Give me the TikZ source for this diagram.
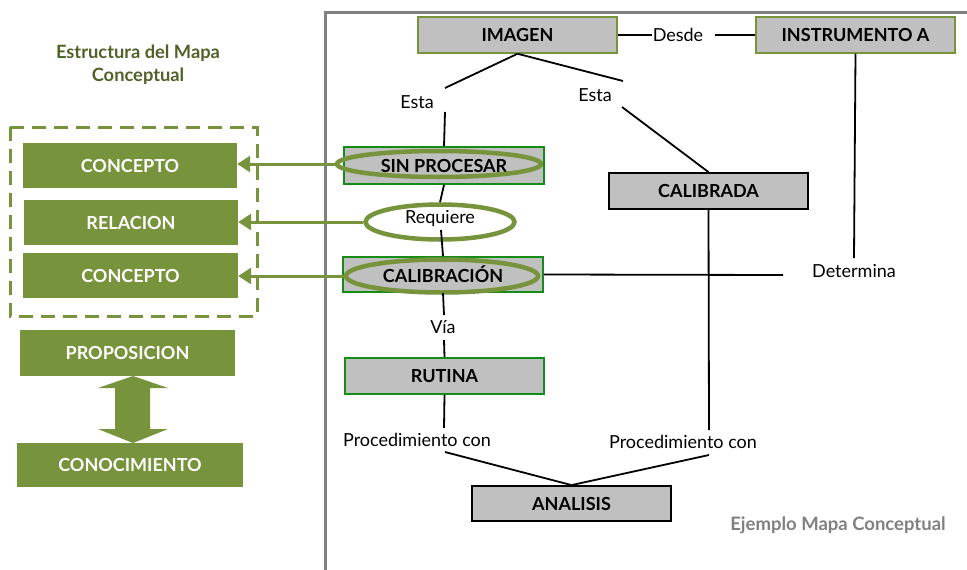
\documentclass[tikz,border=0pt]{standalone}
\usepackage{fontspec}
\setmainfont{Lato}
\usetikzlibrary{shapes.geometric,arrows.meta}
\definecolor{olive}{HTML}{77933C}
\definecolor{darkolive}{HTML}{4F6228}
\definecolor{boxgray}{HTML}{C0C0C0}
\definecolor{framegray}{HTML}{808080}
\definecolor{boxgreen}{HTML}{168C16}
\begin{document}
\begin{tikzpicture}[x=1pt,y=-1pt,
  greenbox/.style={fill=olive, text=white, inner sep=0,
    font=\bfseries\fontsize{18}{21}\selectfont},
  concept/.style={fill=boxgray, inner sep=0, minimum width=199, minimum height=36,
    font=\bfseries\fontsize{18}{21}\selectfont},
  olivebord/.style={concept, draw=olive, line width=1.5},
  greenbord/.style={concept, draw=boxgreen, line width=1.8},
  blackbord/.style={concept, draw=black, line width=1.8},
  linkword/.style={inner sep=0, font=\fontsize{18}{21}\selectfont},
  conn/.style={draw=black, line width=1.8},
  ring/.style={ellipse, draw=olive, line width=4.5, inner sep=0},
  garrow/.style={draw=olive, line width=3, -{Triangle[length=13, width=16]}}]
\useasboundingbox (0,0) rectangle (967,570);

% frame of the example map
\draw[framegray, line width=3] (325,570) -- (325,12) -- (967,12);

% structure legend
\node[align=center, text=darkolive, font=\bfseries\fontsize{18.3}{23}\selectfont]
  (title) at (138,65) {Estructura del Mapa\\Conceptual};
\draw[olive, line width=3, dash pattern=on 14 off 8] (10,127) rectangle (257,316);
\node[greenbox, minimum width=214, minimum height=45] (c1) at (130,165.5) {CONCEPTO};
\node[greenbox, minimum width=214, minimum height=45] (rel) at (131,222.5) {RELACION};
\node[greenbox, minimum width=215, minimum height=45] (c2) at (130.5,275.5) {CONCEPTO};
\node[greenbox, minimum width=215, minimum height=46] (prop) at (127.5,353) {PROPOSICION};
\node[greenbox, minimum width=226, minimum height=44] (conoc) at (130,465) {CONOCIMIENTO};
% double arrow between proposition and knowledge
\fill[olive] (133,376) -- (168,388) -- (150,388) -- (150,429) -- (168,429) -- (133,443)
  -- (98,429) -- (115,429) -- (115,388) -- (98,388) -- cycle;

% concepts of the example
\node[olivebord] (imagen) at (517.5,35) {IMAGEN};
\node[olivebord] (instr) at (855.5,35) {INSTRUMENTO A};
\node[greenbord, minimum width=200, minimum height=37] (sinp) at (444,165.5) {SIN PROCESAR};
\node[greenbord, minimum width=200, minimum height=35] (calib) at (443,274.5) {CALIBRACIÓN};
\node[greenbord] (rutina) at (444.5,376) {RUTINA};
\node[blackbord] (calibrada) at (708.5,191) {CALIBRADA};
\node[blackbord, minimum height=35] (analisis) at (571.5,503.5) {ANALISIS};

% linking words
\node[linkword] (desde) at (678,35) {Desde};
\node[linkword] (esta1) at (417,102) {Esta};
\node[linkword] (esta2) at (595,95) {Esta};
\node[linkword] (determina) at (854,271) {Determina};
\node[linkword] (via) at (443,327) {Vía};
\node[linkword] (proc1) at (417,440) {Procedimiento con};
\node[linkword] (proc2) at (683,442) {Procedimiento con};

% rings marking the proposition
\node[ring, minimum width=204, minimum height=26] (sinE) at (439,164) {};
\node[ring, minimum width=192, minimum height=33] (calE) at (442,276) {};
\node[ring, fill=white, minimum width=149, minimum height=35] (reqE) at (440,222) {};
\node[linkword] (req) at (440,218) {Requiere};

% connector end points
\coordinate (e1a) at (445,88);
\coordinate (e1b) at (445,112);
\coordinate (e2a) at (623,81);
\coordinate (e2b) at (622,107);
\coordinate (d1) at (652,35);
\coordinate (d2) at (715,35);
\coordinate (det1) at (854,258);
\coordinate (det2) at (783,275);
\coordinate (cb1) at (709,430);
\coordinate (cb2) at (709,455);
\coordinate (r1) at (444,428);
\coordinate (r2) at (445,452);
\coordinate (v1) at (444,315);
\coordinate (v2) at (444,340);
\coordinate (rq) at (441,230);

% connectors
\draw[conn] (imagen.east) -- (d1);
\draw[conn] (d2) -- (instr.west);
\draw[conn] (imagen.south) -- (e1a);
\draw[conn] (e1b) -- (sinp.north);
\draw[conn] (imagen.south) -- (e2a);
\draw[conn] (e2b) -- (calibrada.north);
\draw[conn] (instr.south) -- (det1);
\draw[conn] (calib.east) -- (det2);
\draw[conn] (calibrada.south) -- (cb1);
\draw[conn] (cb2) -- (analisis.north);
\draw[conn] (sinp.south) -- (reqE.north);
\draw[conn] (rq) -- (calib.north);
\draw[conn] (calib.south) -- (v1);
\draw[conn] (v2) -- (rutina.north);
\draw[conn] (rutina.south) -- (r1);
\draw[conn] (r2) -- (analisis.north);

% arrows from the example to the legend
\draw[garrow] (sinE.west) -- (sinE.west -| c1.east);
\draw[garrow] (reqE.west) -- (reqE.west -| rel.east);
\draw[garrow] (calE.west) -- (calE.west -| c2.east);

\node[text=framegray, font=\bfseries\fontsize{18.5}{21}\selectfont] (ejemplo) at (838,525)
  {Ejemplo Mapa Conceptual};
\end{tikzpicture}
\end{document}
